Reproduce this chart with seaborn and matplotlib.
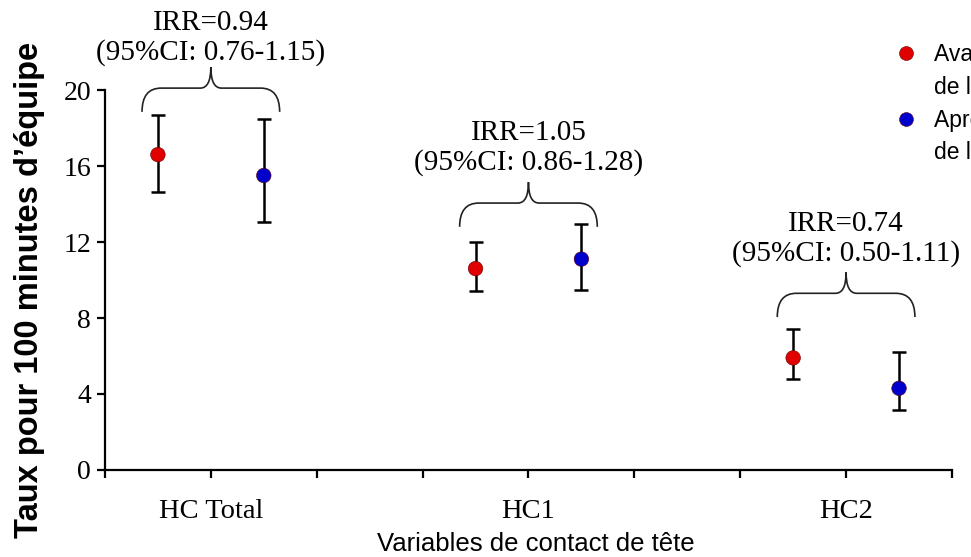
import numpy as np
import pandas as pd
import matplotlib
matplotlib.use("Agg")
import matplotlib.pyplot as plt
from matplotlib.path import Path
from matplotlib.patches import PathPatch
from matplotlib.lines import Line2D
import seaborn as sns

# ---- données ----
categories = ["HC Total", "HC1", "HC2"]
groups = ["Avant la modification\nde la règle", "Après la modification\nde la règle"]

rate_avant = [16.6, 10.6, 5.9]
lo_avant = [14.65, 9.4, 4.8]
hi_avant = [18.7, 12.0, 7.4]

rate_apres = [15.5, 11.1, 4.3]
lo_apres = [13.05, 9.5, 3.15]
hi_apres = [18.45, 12.95, 6.2]

irr = ["0.94", "1.05", "0.74"]
irr_ci = ["0.76-1.15", "0.86-1.28", "0.50-1.11"]

y_ticks = [0, 4, 8, 12, 16, 20]

# ---- mise en page (accolades / annotations) ----
brace_base = [18.85, 12.8, 8.05]
label_y = [22.75, 16.95, 12.15]

rows = []
for i, cat in enumerate(categories):
    for j, (r, lo, hi) in enumerate([(rate_avant[i], lo_avant[i], hi_avant[i]),
                                     (rate_apres[i], lo_apres[i], hi_apres[i])]):
        rows.append({"cat": cat, "groupe": groups[j], "x": 3 * i + 0.5 + j,
                     "taux": r, "lo": lo, "hi": hi})
df = pd.DataFrame(rows)

sns.set_theme(style="ticks")
plt.rcParams["font.family"] = ["Liberation Serif", "DejaVu Serif"]
plt.rcParams["text.color"] = "black"

fig = plt.figure(figsize=(9.71, 5.57), dpi=100)
ax = fig.add_axes([0.1081, 0.1562, 0.8723, 0.6822])

# barres d'erreur
ax.errorbar(df["x"], df["taux"], yerr=[df["taux"] - df["lo"], df["hi"] - df["taux"]],
            fmt="none", ecolor="black", elinewidth=1.8, capsize=4.8, capthick=1.8, zorder=2)

palette = {groups[0]: "#E00000", groups[1]: "#0000CC"}
sns.scatterplot(data=df, x="x", y="taux", hue="groupe", palette=palette,
                s=110, edgecolor="#600000", linewidth=0.4, zorder=3, ax=ax, legend=False)

ax.set_xlim(0, 8)
ax.set_ylim(0, 20)
ax.set_yticks(y_ticks)
xt = np.arange(0, 9)
ax.set_xticks(xt)
ax.set_xticklabels([categories[(t - 1) // 3] if t % 3 == 1 else "" for t in xt])
ax.tick_params(axis="x", direction="out", length=6, width=1.6, color="black",
               pad=15, labelsize=20.5, labelcolor="black")
ax.tick_params(axis="y", direction="out", length=6, width=1.6, color="black",
               pad=4, labelsize=20, labelcolor="black")

for side in ["top", "right"]:
    ax.spines[side].set_visible(False)
for side in ["left", "bottom"]:
    ax.spines[side].set_color("black")
    ax.spines[side].set_linewidth(1.6)

ax.set_xlabel("Variables de contact de tête", family=["Liberation Sans", "DejaVu Sans"],
              fontsize=18.5, color="black")
ax.xaxis.set_label_coords(0.509, -0.163)
ax.set_ylabel("Taux pour 100 minutes d’équipe", family=["Liberation Sans", "DejaVu Sans"],
              fontsize=23.5, fontweight="bold", color="black")
ax.yaxis.set_label_coords(-0.071, 0.474)


# accolades
def brace(ax, xc, ye, half=0.65, h1=1.25, h2=2.35, r=0.18, rc=0.1):
    x0, x1 = xc - half, xc + half
    yh, yc = ye + h1, ye + h2
    verts = [(x0, ye), (x0, yh), (x0 + r, yh), (xc - rc, yh), (xc, yh), (xc, yc),
             (xc, yh), (xc + rc, yh), (x1 - r, yh), (x1, yh), (x1, ye)]
    codes = [Path.MOVETO, Path.CURVE3, Path.CURVE3, Path.LINETO, Path.CURVE3, Path.CURVE3,
             Path.CURVE3, Path.CURVE3, Path.LINETO, Path.CURVE3, Path.CURVE3]
    ax.add_patch(PathPatch(Path(verts, codes), fill=False, edgecolor="#222222",
                           linewidth=1.2, clip_on=False))


for i in range(len(categories)):
    xc = 3 * i + 1
    brace(ax, xc, brace_base[i])
    ax.text(xc, label_y[i], f"IRR={irr[i]}\n(95%CI: {irr_ci[i]})", ha="center", va="center",
            fontsize=21, color="black", linespacing=1.15, clip_on=False)

# légende (coupée au bord droit comme dans l'original)
handles, labels = [], []
for g in groups:
    first, second = g.split("\n")
    handles.append(Line2D([], [], marker="o", linestyle="none", markersize=10,
                          markerfacecolor=palette[g], markeredgecolor="#600000",
                          markeredgewidth=0.4))
    labels.append(first)
    handles.append(Line2D([], [], linestyle="none"))
    labels.append(second)
fig.legend(handles, labels, loc="upper left", bbox_to_anchor=(0.9217, 0.922),
           frameon=False, borderpad=0, borderaxespad=0, handlelength=0.95,
           handletextpad=0.75, labelspacing=0.42, labelcolor="black",
           prop={"family": ["Liberation Sans", "DejaVu Sans"], "size": 16.5})

fig.savefig("out.png", dpi=100)
